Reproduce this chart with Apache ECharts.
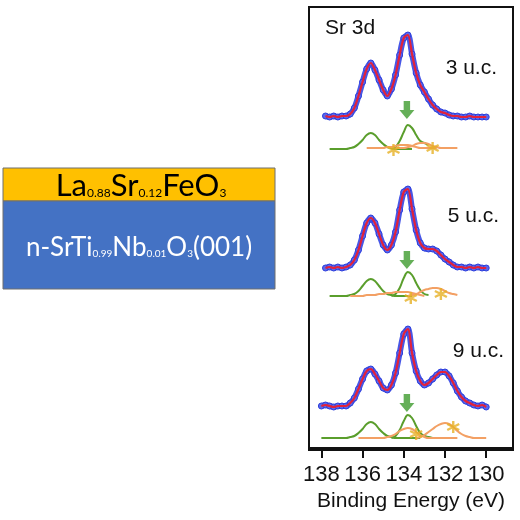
<!DOCTYPE html>
<html>
<head>
<meta charset="utf-8">
<script src="https://cdn.jsdelivr.net/npm/echarts/dist/echarts.min.js"></script>
<style>
  html, body { margin: 0; padding: 0; background: #fff; }
  #main { width: 520px; height: 520px; }
</style>
</head>
<body>
<div id="main"></div>
<script>
// binding energy grid (eV)
var energy = [138.0, 137.8, 137.6, 137.4, 137.2, 137.0, 136.8, 136.6, 136.4, 136.2, 136.0,
  135.8, 135.6, 135.4, 135.2, 135.0, 134.8, 134.6, 134.4, 134.2, 134.0,
  133.8, 133.6, 133.4, 133.2, 133.0, 132.8, 132.6, 132.4, 132.2, 132.0,
  131.8, 131.6, 131.4, 131.2, 131.0, 130.8, 130.6, 130.4, 130.2, 130.0];
var tickValues = [130, 132, 134, 136, 138];

// measured spectra (offset, arb. units)
var spec3 = [null, 332, 331, 332, 331, 332, 332, 334, 340, 352, 366, 379, 385, 378, 368, 358, 352, 359, 373, 393, 410,
  413, 394, 375, 363, 356, 349, 343, 339, 336, 335, 333, 332, 332, 331, 331, 332, 331, 331, 331, 331];
var spec5 = [null, 180, 181, 180, 181, 180, 181, 183, 188, 198, 212, 225, 230, 225, 214, 203, 198, 203, 216, 238, 256,
  259, 239, 218, 205, 200, 199, 199, 197, 193, 189, 186, 183, 181, 181, 180, 181, 180, 181, 180, 180];
var spec9 = [42, 43, 42, 41, 42, 42, 42, 45, 50, 59, 69, 77, 79, 74, 67, 60, 58, 63, 75, 95, 114,
  119, 95, 77, 67, 63, 65, 69, 73, 76, 76, 72, 65, 57, 51, 47, 45, 43, 42, 43, 41];

// fitted components: start energy + values on the same 0.2 eV grid
var green1_3 = [299, 299, 299, 299, 299, 300, 301, 304, 308, 313, 315, 313, 308, 304, 301, 300, 299, 299, 299, 299, 299];
var green2_3 = [299, 301, 307, 316, 323, 320, 313, 307, 305, 303];
var orange1_3 = [300, 300, 300, 300, 300, 301, 301, 302, 303, 303, 303, 302, 301, 300, 300, 300, 300, 300];
var orange2_3 = [300, 300, 300, 301, 302, 304, 305, 305, 304, 302, 301, 300, 300, 300, 300, 300];

var green1_5 = [152, 152, 152, 152, 152, 153, 154, 157, 162, 167, 169, 167, 162, 157, 154, 153, 152, 152, 152, 152, 152];
var green2_5 = [152, 154, 160, 170, 176, 173, 165, 158, 154, 153];
var orange1_5 = [152, 152, 152, 152, 153, 153, 153, 154, 154, 155, 155, 156, 156, 156, 156, 155, 154, 153, 152];
var orange2_5 = [152, 153, 154, 156, 158, 159, 160, 160, 159, 157, 155, 154, 153];

var green1_9 = [10, 10, 10, 10, 10, 10, 10, 11, 12, 15, 19, 24, 26, 24, 19, 15, 12, 11, 10, 10, 10, 10, 10, 10, 10];
var green2_9 = [10, 12, 18, 27, 33, 30, 22, 15, 12, 11, 10];
var orange1_9 = [10, 10, 10, 10, 10, 10, 10, 11, 12, 14, 17, 19, 20, 19, 16, 13, 11, 10, 10, 10, 10, 10, 10, 10, 10];
var orange2_9 = [10, 11, 13, 16, 19, 22, 24, 25, 24, 21, 17, 14, 12, 11, 10, 10, 10, 10];

// markers
var starE = [134.5, 132.6, 133.66, 132.2, 133.4, 131.6];
var starV = [298, 300, 150, 154, 14, 21];
var arrowE = [133.85, 133.85, 133.85];
var arrowV = [338, 188, 45];

var BLUE = '#2f40dc', RED = '#e3223a', GREEN = '#5a9e2c', ORANGE = '#f3a064', STAR = '#e6b024';
var FONT = 'Liberation Sans, Arial, sans-serif';

function pairs(vals) {
    var out = [];
    for (var i = 0; i < vals.length; i++) {
        if (vals[i] !== null) out.push([energy[i], vals[i]]);
    }
    return out;
}
function fromE(startE, vals) {
    var i0 = energy.indexOf(startE);
    var out = [];
    for (var k = 0; k < vals.length; k++) out.push([energy[i0 + k], vals[k]]);
    return out;
}

var series = [];
function comp(data, color) {
    series.push({
        type: 'line', data: data, smooth: 0.4, showSymbol: false, silent: true,
        lineStyle: {color: color, width: 2}, z: 2
    });
}
comp(fromE(137.6, green1_3), GREEN);
comp(fromE(134.6, green2_3), GREEN);
comp(fromE(135.8, orange1_3), ORANGE);
comp(fromE(134.4, orange2_3), ORANGE);
comp(fromE(137.6, green1_5), GREEN);
comp(fromE(134.6, green2_5), GREEN);
comp(fromE(136.6, orange1_5), ORANGE);
comp(fromE(133.8, orange2_5), ORANGE);
comp(fromE(138.0, green1_9), GREEN);
comp(fromE(134.6, green2_9), GREEN);
comp(fromE(136.2, orange1_9), ORANGE);
comp(fromE(133.4, orange2_9), ORANGE);

[spec3, spec5, spec9].forEach(function (s) {
    series.push({
        type: 'line', data: pairs(s), smooth: 0.3, symbol: 'circle', symbolSize: 6, silent: true,
        lineStyle: {color: '#4757e6', width: 6},
        itemStyle: {color: '#5a68ec', borderColor: BLUE, borderWidth: 1}, z: 3
    });
    series.push({
        type: 'line', data: pairs(s), smooth: 0.3, showSymbol: false, silent: true,
        lineStyle: {color: RED, width: 2.2}, z: 4
    });
});

var starData = [];
for (var i = 0; i < starE.length; i++) starData.push([starE[i], starV[i]]);
series.push({
    type: 'scatter', data: starData, silent: true, z: 5,
    symbol: 'path://M0,-10 L0,10 M-8.7,-5 L8.7,5 M-8.7,5 L8.7,-5',
    symbolSize: 12,
    itemStyle: {color: 'none', borderColor: STAR, borderWidth: 2.4}
});

var arrowData = [];
for (var j = 0; j < arrowE.length; j++) arrowData.push([arrowE[j], arrowV[j]]);
series.push({
    type: 'scatter', data: arrowData, silent: true, z: 5,
    symbol: 'path://M4,0 L10,0 L10,9 L14,9 L7,18 L0,9 L4,9 Z',
    symbolSize: [15, 18],
    itemStyle: {color: '#3e9b2e'}
});

var myChart = echarts.init(document.getElementById('main'));
var option = {
    backgroundColor: '#fff',
    animation: false,
    grid: {left: 309, right: 7, top: 7, bottom: 70, show: true, borderColor: '#111', borderWidth: 2},
    xAxis: {
        type: 'value', inverse: true, min: 128.7, max: 138.6,
        name: 'Binding Energy (eV)', nameLocation: 'middle', nameGap: 39,
        nameTextStyle: {fontSize: 21, color: '#111', fontFamily: FONT},
        axisLine: {show: true, lineStyle: {color: '#111', width: 2}},
        axisTick: {show: true, inside: false, length: 10, lineStyle: {color: '#111', width: 2}, customValues: tickValues},
        axisLabel: {fontSize: 22, color: '#111', fontFamily: FONT, margin: 14, customValues: tickValues},
        splitLine: {show: false}
    },
    yAxis: {
        type: 'value', min: -2, max: 441,
        axisLine: {show: false}, axisTick: {show: false}, axisLabel: {show: false}, splitLine: {show: false}
    },
    graphic: [
        {type: 'rect', shape: {x: 3, y: 168, width: 272, height: 33}, style: {fill: '#FFC000', stroke: '#6f6f6f', lineWidth: 1}},
        {type: 'rect', shape: {x: 3, y: 201, width: 272, height: 88}, style: {fill: '#4472C4', stroke: '#6f6f6f', lineWidth: 1}},
        {
            type: 'text', x: 141, y: 186,
            style: {
                text: '{b|La}{s|0.88}{b|Sr}{s|0.12}{b|FeO}{s|3}',
                align: 'center', verticalAlign: 'middle',
                rich: {
                    b: {fontSize: 31, fontFamily: 'Lato', fill: '#000', lineHeight: 34},
                    s: {fontSize: 12, fontFamily: 'Lato', fill: '#000', lineHeight: 34, verticalAlign: 'bottom', padding: [0, 0, 4, 0]}
                }
            }
        },
        {
            type: 'text', x: 139, y: 248,
            style: {
                text: '{b|n-SrTi}{s|0.99}{b|Nb}{s|0.01}{b|O}{s|3}{b|(001)}',
                align: 'center', verticalAlign: 'middle',
                rich: {
                    b: {fontSize: 26, fontFamily: 'Lato', fill: '#fff', lineHeight: 30},
                    s: {fontSize: 10, fontFamily: 'Lato', fill: '#fff', lineHeight: 30, verticalAlign: 'bottom', padding: [0, 0, 4, 0]}
                }
            }
        },
        {type: 'text', x: 325, y: 28, style: {text: 'Sr 3d', fontSize: 21, fontFamily: FONT, fill: '#111', verticalAlign: 'middle'}},
        {type: 'text', x: 497, y: 68, style: {text: '3 u.c.', fontSize: 21, fontFamily: FONT, fill: '#111', align: 'right', verticalAlign: 'middle'}},
        {type: 'text', x: 499, y: 216, style: {text: '5 u.c.', fontSize: 21, fontFamily: FONT, fill: '#111', align: 'right', verticalAlign: 'middle'}},
        {type: 'text', x: 504, y: 351, style: {text: '9 u.c.', fontSize: 21, fontFamily: FONT, fill: '#111', align: 'right', verticalAlign: 'middle'}}
    ],
    series: series
};
myChart.setOption(option);
</script>
</body>
</html>
